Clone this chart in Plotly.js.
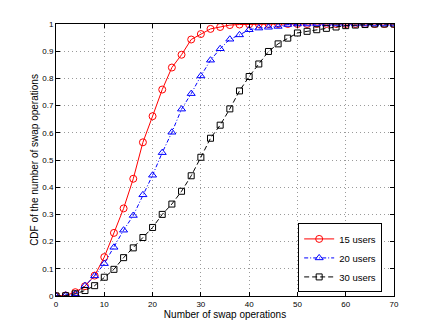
<!DOCTYPE html>
<html>
<head>
<meta charset="utf-8">
<script src="https://cdn.plot.ly/plotly-3.0.1.min.js"></script>
<style>html,body{margin:0;padding:0;background:#fff;}#chart{width:436px;height:333px;}</style>
</head>
<body>
<div id="chart"></div>
<script>
const swaps = [0,2,4,6,8,10,12,14,16,18,20,22,24,26,28,30,32,34,36,38,40,42,44,46,48,50,52,54,56,58,60,62,64,66,68,70];
const users15 = [0,0.002,0.014,0.036,0.075,0.143,0.232,0.322,0.431,0.565,0.661,0.759,0.840,0.887,0.943,0.963,0.982,0.989,0.996,0.998,0.999,1,1,1,1,1,1,1,1,1,1,1,1,1,1,1];
const users20 = [0,0.003,0.008,0.038,0.074,0.119,0.179,0.242,0.296,0.372,0.444,0.527,0.602,0.687,0.744,0.809,0.867,0.909,0.944,0.960,0.979,0.985,0.988,0.991,0.998,1,1,1,1,1,1,1,1,1,1,1];
const users30 = [0,0.001,0.008,0.020,0.038,0.069,0.098,0.141,0.177,0.215,0.252,0.300,0.338,0.385,0.442,0.510,0.580,0.628,0.688,0.754,0.807,0.853,0.899,0.927,0.948,0.967,0.973,0.979,0.984,0.989,0.994,0.996,0.998,1,1,1];
const seriesNames = ['15 users','20 users','30 users'];

const FONT = 'Liberation Sans, Arial, sans-serif';
const traces = [
  {x: swaps, y: users15, name: seriesNames[0], mode: 'lines+markers',
   line: {color: '#ff0000', width: 1, dash: 'solid'},
   marker: {symbol: 'circle-open', size: 7, color: '#ff0000', line: {width: 1}}},
  {x: swaps, y: users20, name: seriesNames[1], mode: 'lines+markers',
   line: {color: '#0000ff', width: 1, dash: '4px,2px,1px,2px'},
   marker: {symbol: 'triangle-up-open', size: 7, color: '#0000ff', line: {width: 1}}},
  {x: swaps, y: users30, name: seriesNames[2], mode: 'lines+markers',
   line: {color: '#000000', width: 1, dash: '5px,3px'},
   marker: {symbol: 'square-open', size: 6, color: '#000000', line: {width: 1}}}
];

const axisCommon = {
  showline: true, linecolor: '#000', linewidth: 1, mirror: 'ticks',
  ticks: 'inside', ticklen: 4, tickcolor: '#000', tickwidth: 1,
  showgrid: true, gridcolor: '#9a9a9a', griddash: '1px,3px', gridwidth: 1,
  zeroline: false, tickfont: {family: FONT, size: 8, color: '#000'}
};

const layout = {
  width: 436, height: 333,
  margin: {l: 56, r: 42, t: 24, b: 37},
  paper_bgcolor: '#fff', plot_bgcolor: '#fff',
  font: {family: FONT, color: '#000'},
  showlegend: true,
  xaxis: Object.assign({}, axisCommon, {
    range: [0, 70], dtick: 10, tick0: 0,
    title: {text: 'Number of swap operations', font: {family: FONT, size: 10}, standoff: 2}
  }),
  yaxis: Object.assign({}, axisCommon, {
    range: [0, 1], dtick: 0.1, tick0: 0,
    title: {text: 'CDF of the number of swap operations', font: {family: FONT, size: 10}, standoff: 1}
  }),
  legend: {
    x: 0.965, y: 0.14, xanchor: 'right', yanchor: 'middle',
    bgcolor: '#fff', bordercolor: '#000', borderwidth: 1,
    font: {family: FONT, size: 9.5}, itemwidth: 30,
    tracegroupgap: 0
  }
};

Plotly.newPlot('chart', traces, layout, {staticPlot: true, displayModeBar: false});
</script>
</body>
</html>
